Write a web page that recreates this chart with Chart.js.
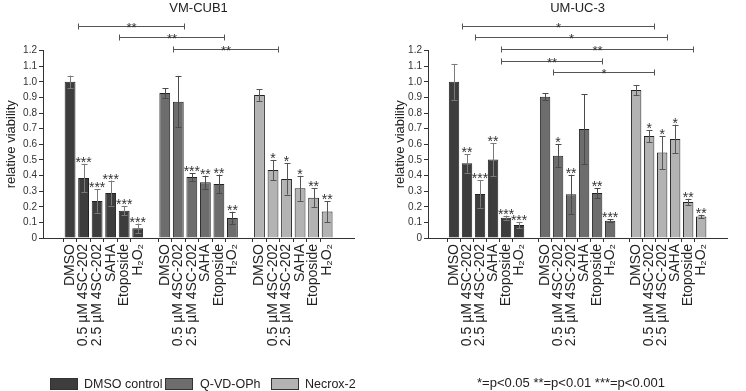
<!DOCTYPE html>
<html><head><meta charset="utf-8">
<script src="https://cdn.jsdelivr.net/npm/chart.js@4/dist/chart.umd.min.js"></script>
<style>
html,body{margin:0;padding:0;background:#fff;}
#wrap{position:relative;width:746px;height:391px;overflow:hidden;font-family:"Liberation Sans",Arial,sans-serif;color:#222;}
.cv{position:absolute;top:0;width:373px;height:391px;}
.lt{position:absolute;font-size:12.5px;line-height:14px;white-space:nowrap;}
.ft{position:absolute;font-size:13px;line-height:14px;white-space:nowrap;}
.box{position:absolute;width:26px;height:10px;border:1px solid #333;}
</style></head>
<body><div id="wrap">
<div class="cv" style="left:0"><canvas id="c1" width="373" height="391"></canvas></div>
<div class="cv" style="left:373px"><canvas id="c2" width="373" height="391"></canvas></div>
<div class="box" style="left:50px;top:378px;background:#3d3d3d"></div>
<div class="lt" style="left:84px;top:377px">DMSO control</div>
<div class="box" style="left:165px;top:378px;background:#6d6d6d"></div>
<div class="lt" style="left:200px;top:377px">Q-VD-OPh</div>
<div class="box" style="left:271px;top:378px;background:#b3b3b3"></div>
<div class="lt" style="left:305px;top:377px">Necrox-2</div>
<div class="ft" style="left:477px;top:376px">*=p&lt;0.05 **=p&lt;0.01 ***=p&lt;0.001</div>
</div>
<script>
const groupNames = ['DMSO control','Q-VD-OPh','Necrox-2'];
const treatments = ['DMSO','0.5 µM 4SC-202','2.5 µM 4SC-202','SAHA','Etoposide','H₂O₂'];

// VM-CUB1
const vmDmsoMean = [1.00, 0.385, 0.237, 0.288, 0.175, 0.062];
const vmDmsoErr  = [0.04, 0.09, 0.075, 0.08, 0.03, 0.03];
const vmDmsoSig  = ['', '***', '***', '***', '***', '***'];
const vmQvdMean  = [0.929, 0.873, 0.391, 0.357, 0.346, 0.128];
const vmQvdErr   = [0.03, 0.165, 0.025, 0.042, 0.06, 0.04];
const vmQvdSig   = ['', '', '***', '**', '**', '**'];
const vmNecMean  = [0.916, 0.436, 0.378, 0.318, 0.258, 0.169];
const vmNecErr   = [0.038, 0.064, 0.1, 0.08, 0.06, 0.068];
const vmNecSig   = ['', '*', '*', '*', '**', '**'];
// [fromGroup, fromTreatment, toGroup, toTreatment, label]
const vmBrackets = [[0,1,1,1,'**'],[0,4,1,4,'**'],[1,1,2,1,'**']];

// UM-UC-3
const umDmsoMean = [1.00, 0.478, 0.282, 0.502, 0.130, 0.083];
const umDmsoErr  = [0.115, 0.06, 0.088, 0.105, 0.013, 0.02];
const umDmsoSig  = ['', '**', '***', '**', '***', '***'];
const umQvdMean  = [0.905, 0.527, 0.28, 0.698, 0.288, 0.111];
const umQvdErr   = [0.022, 0.075, 0.125, 0.224, 0.032, 0.008];
const umQvdSig   = ['', '*', '**', '', '**', '***'];
const umNecMean  = [0.948, 0.653, 0.547, 0.634, 0.231, 0.137];
const umNecErr   = [0.032, 0.038, 0.105, 0.092, 0.02, 0.012];
const umNecSig   = ['', '*', '*', '*', '**', '**'];
const umBrackets = [[0,1,2,1,'*'],[0,2,2,2,'*'],[0,4,2,4,'**'],[0,4,1,4,'**'],[1,1,2,1,'*']];

const yTicks = [0,0.1,0.2,0.3,0.4,0.5,0.6,0.7,0.8,0.9,1.0,1.1,1.2];

const FONT = '"Liberation Sans", Arial, sans-serif';
const fills = ['#3d3d3d','#6d6d6d','#b3b3b3'];
const errColors = ['#7a7a7a','#4a4a4a','#555555'];
const LEAD = 2, STRIDE = 7;
const xLabels = ['',''].concat(treatments, [''], treatments, [''], treatments, ['','']);
function idx(g,t){return LEAD + g*STRIDE + t;}
function spread(g, arr){const d = xLabels.map(()=>null); arr.forEach((v,t)=>{d[idx(g,t)] = v;}); return d;}

const annot = {
  id:'annot',
  afterDatasetsDraw(chart, args, opts){
    const ctx = chart.ctx, ys = chart.scales.y;
    ctx.save();
    opts.groups.forEach((g, gi)=>{
      const meta = chart.getDatasetMeta(gi);
      g.mean.forEach((m, t)=>{
        const el = meta.data[idx(gi,t)];
        const cx = Math.round(el.x) + 0.5;
        const yt = ys.getPixelForValue(m + g.err[t]);
        const yb = ys.getPixelForValue(m - g.err[t]);
        ctx.strokeStyle = errColors[gi]; ctx.lineWidth = 1;
        ctx.beginPath();
        ctx.moveTo(cx, yt); ctx.lineTo(cx, yb);
        ctx.moveTo(cx-3, Math.round(yt)+0.5); ctx.lineTo(cx+3, Math.round(yt)+0.5);
        ctx.moveTo(cx-3, Math.round(yb)+0.5); ctx.lineTo(cx+3, Math.round(yb)+0.5);
        ctx.stroke();
        if (g.sig[t]) {
          ctx.fillStyle = '#333';
          ctx.font = '14px ' + FONT;
          ctx.textAlign = 'center'; ctx.textBaseline = 'alphabetic';
          ctx.fillText(g.sig[t], el.x, yt + 3);
        }
      });
    });
    const top = chart.chartArea.top;
    opts.brackets.forEach((b, row)=>{
      const e1 = chart.getDatasetMeta(b[0]).data[idx(b[0],b[1])];
      const e2 = chart.getDatasetMeta(b[2]).data[idx(b[2],b[3])];
      const x1 = Math.round(e1.x - e1.width/2) + 0.5;
      const x2 = Math.round(e2.x + e2.width/2) + 0.5;
      const y = Math.round(top - 25 + row*11.7) + 0.5;
      ctx.strokeStyle = '#555'; ctx.lineWidth = 1;
      ctx.beginPath();
      ctx.moveTo(x1, y); ctx.lineTo(x2, y);
      ctx.moveTo(x1, y-3); ctx.lineTo(x1, y+3);
      ctx.moveTo(x2, y-3); ctx.lineTo(x2, y+3);
      ctx.stroke();
      ctx.fillStyle = '#333';
      ctx.font = '13px ' + FONT;
      ctx.textAlign = 'center'; ctx.textBaseline = 'alphabetic';
      ctx.fillText(b[4], (x1+x2)/2, y + 5);
    });
    ctx.restore();
  }
};

function makeChart(id, title, groups, brackets, padLeft, yWidth, padRight){
  const datasets = groups.map((g, gi)=>({
    label: groupNames[gi],
    data: spread(gi, g.mean),
    backgroundColor: fills[gi],
    borderColor: '#222',
    borderWidth: 1,
    grouped: false,
    categoryPercentage: 1,
    barPercentage: 0.8
  }));
  return new Chart(document.getElementById(id), {
    type: 'bar',
    data: { labels: xLabels, datasets },
    plugins: [annot],
    options: {
      responsive: false,
      devicePixelRatio: 1,
      animation: false,
      layout: { padding: { left: padLeft, right: padRight, top: 0, bottom: 0 } },
      plugins: {
        legend: { display: false },
        tooltip: { enabled: false },
        title: {
          display: true, text: title, fullSize: false, color: '#222',
          font: { size: 13, weight: 'normal', family: FONT },
          padding: { top: 1, bottom: 34 }
        },
        annot: { groups, brackets }
      },
      scales: {
        x: {
          type: 'category', offset: false,
          grid: { drawOnChartArea: false, drawTicks: true, tickLength: 4,
                  tickColor: (c)=> xLabels[c.index] ? '#333' : 'rgba(0,0,0,0)' },
          border: { display: true, color: '#333', width: 1 },
          ticks: { autoSkip: false, maxRotation: 90, minRotation: 90, color: '#222',
                   font: { size: 14, family: FONT }, padding: 2 },
          afterFit(s){ s.height = 153; }
        },
        y: {
          min: 0, max: 1.2,
          afterBuildTicks(s){ s.ticks = yTicks.map(v=>({value:v})); },
          grid: { drawOnChartArea: false, drawTicks: true, tickLength: 4, tickColor: '#333' },
          border: { display: true, color: '#333', width: 1 },
          ticks: { color: '#333', font: { size: 10, family: FONT }, padding: 2,
                   callback: (v)=> v === 0 ? '0' : Number(v).toFixed(1) },
          title: { display: true, text: 'relative viability', color: '#222',
                   font: { size: 13, family: FONT }, padding: { top: 4, bottom: 0 } },
          afterFit(s){ s.width = yWidth; }
        }
      }
    }
  });
}

makeChart('c1', 'VM-CUB1', [
  {mean: vmDmsoMean, err: vmDmsoErr, sig: vmDmsoSig},
  {mean: vmQvdMean, err: vmQvdErr, sig: vmQvdSig},
  {mean: vmNecMean, err: vmNecErr, sig: vmNecSig}
], vmBrackets, 0, 43, 11);

makeChart('c2', 'UM-UC-3', [
  {mean: umDmsoMean, err: umDmsoErr, sig: umDmsoSig},
  {mean: umQvdMean, err: umQvdErr, sig: umQvdSig},
  {mean: umNecMean, err: umNecErr, sig: umNecSig}
], umBrackets, 16, 39, 1);
</script>
</body></html>
